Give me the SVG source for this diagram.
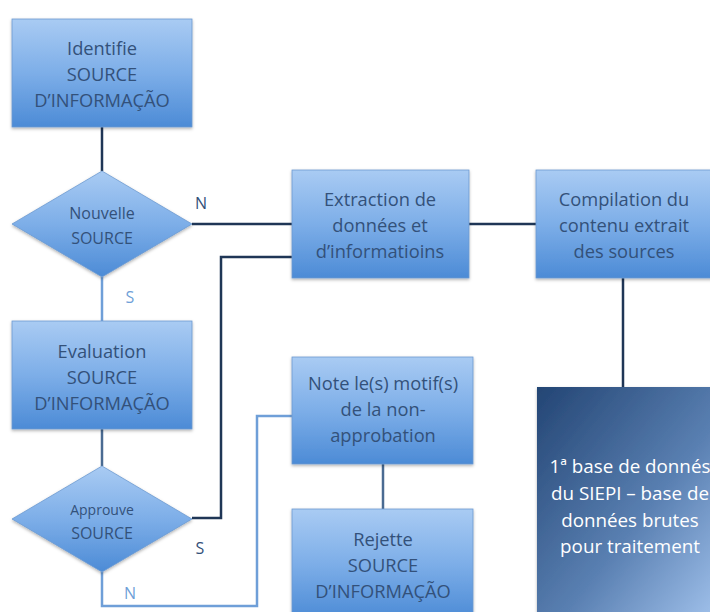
<svg xmlns="http://www.w3.org/2000/svg" width="710" height="612" viewBox="0 0 710 612">
<defs>
<linearGradient id="blue" x1="0" y1="0" x2="0" y2="1">
<stop offset="0" stop-color="#a9cbf3"/>
<stop offset="0.5" stop-color="#7daee8"/>
<stop offset="1" stop-color="#4c8bd6"/>
</linearGradient>
<linearGradient id="dark" x1="0" y1="0" x2="1" y2="1">
<stop offset="0" stop-color="#234574"/>
<stop offset="0.55" stop-color="#5a80b2"/>
<stop offset="1" stop-color="#a9c9f2"/>
</linearGradient>
<filter id="sh" x="-10%" y="-10%" width="120%" height="130%">
<feDropShadow dx="0" dy="1.5" stdDeviation="1.5" flood-color="#000" flood-opacity="0.3"/>
</filter>
</defs>
<style>
.box{fill:url(#blue);stroke:#6d9ad0;stroke-width:0.8;filter:url(#sh)}
.t{font-family:"Open Sans","Noto Sans",sans-serif;font-size:18.3px;fill:#33517a;text-anchor:middle}
.ts{font-size:16px}
.tx{font-size:14px}
.w{fill:#ffffff;font-size:18.8px}
.lbl{font-family:"Open Sans","Noto Sans",sans-serif;font-size:16px;text-anchor:middle}
.c{fill:none;stroke:#1f3656;stroke-width:2.5}
.cl{fill:none;stroke:#6f9fd8;stroke-width:2.5}
.cm{fill:none;stroke:#4a6b92;stroke-width:2.5}
</style>
<rect width="710" height="612" fill="#ffffff"/>
<g id="connectors">
<path class="c" d="M102 127 V171"/>
<path class="c" d="M192 224 H292"/>
<path class="c" d="M469 224 H536"/>
<path class="c" d="M623 278 V387"/>
<path class="c" d="M292 257 H221 V518 H192"/>
<path class="cl" d="M102 277 V321"/>
<path class="cm" d="M102 429 V466"/>
<path class="cl" d="M102 572 V606 H257 V416 H292"/>
<path class="cm" d="M383 464 V509"/>
<text class="lbl" x="201" y="209" fill="#33517a">N</text>
<text class="lbl" x="130" y="303" fill="#6f9fd8">S</text>
<text class="lbl" x="200" y="554" fill="#33517a">S</text>
<text class="lbl" x="130" y="599" fill="#6f9fd8">N</text>
</g>
<g id="identifie">
<rect class="box" x="12" y="19" width="180" height="108"/>
<text class="t" x="102" y="55">Identifie</text>
<text class="t" x="102" y="81">SOURCE</text>
<text class="t" x="102" y="107">D’INFORMAÇÃO</text>
</g>
<g id="nouvelle">
<polygon class="box" points="102,171 192,224 102,277 12,224"/>
<text class="t ts" x="102" y="219">Nouvelle</text>
<text class="t ts" x="102" y="244">SOURCE</text>
</g>
<g id="extraction">
<rect class="box" x="292" y="170" width="177" height="108"/>
<text class="t" x="380" y="206">Extraction de</text>
<text class="t" x="380" y="232">données et</text>
<text class="t" x="380" y="258">d’informatioins</text>
</g>
<g id="compilation">
<rect class="box" x="536" y="170" width="178" height="108"/>
<text class="t" x="624" y="206">Compilation du</text>
<text class="t" x="624" y="232">contenu extrait</text>
<text class="t" x="624" y="258">des sources</text>
</g>
<g id="evaluation">
<rect class="box" x="12" y="321" width="180" height="108"/>
<text class="t" x="102" y="358">Evaluation</text>
<text class="t" x="102" y="384">SOURCE</text>
<text class="t" x="102" y="410">D’INFORMAÇÃO</text>
</g>
<g id="approuve">
<polygon class="box" points="102,466 192,519 102,572 12,519"/>
<text class="t tx" x="102" y="515">Approuve</text>
<text class="t ts" x="102" y="539">SOURCE</text>
</g>
<g id="note">
<rect class="box" x="292" y="357" width="181" height="107"/>
<text class="t" x="383" y="390">Note le(s) motif(s)</text>
<text class="t" x="383" y="416">de la non-</text>
<text class="t" x="383" y="442">approbation</text>
</g>
<g id="rejette">
<rect class="box" x="292" y="509" width="181" height="110"/>
<text class="t" x="383" y="546">Rejette</text>
<text class="t" x="383" y="572">SOURCE</text>
<text class="t" x="383" y="598">D’INFORMAÇÃO</text>
</g>
<g id="base">
<rect x="537" y="387" width="190" height="240" fill="url(#dark)" filter="url(#sh)"/>
<text class="t w" x="630" y="473">1ª base de donnés</text>
<text class="t w" x="630" y="500">du SIEPI – base de</text>
<text class="t w" x="630" y="527">données brutes</text>
<text class="t w" x="630" y="553">pour traitement</text>
</g>
</svg>
